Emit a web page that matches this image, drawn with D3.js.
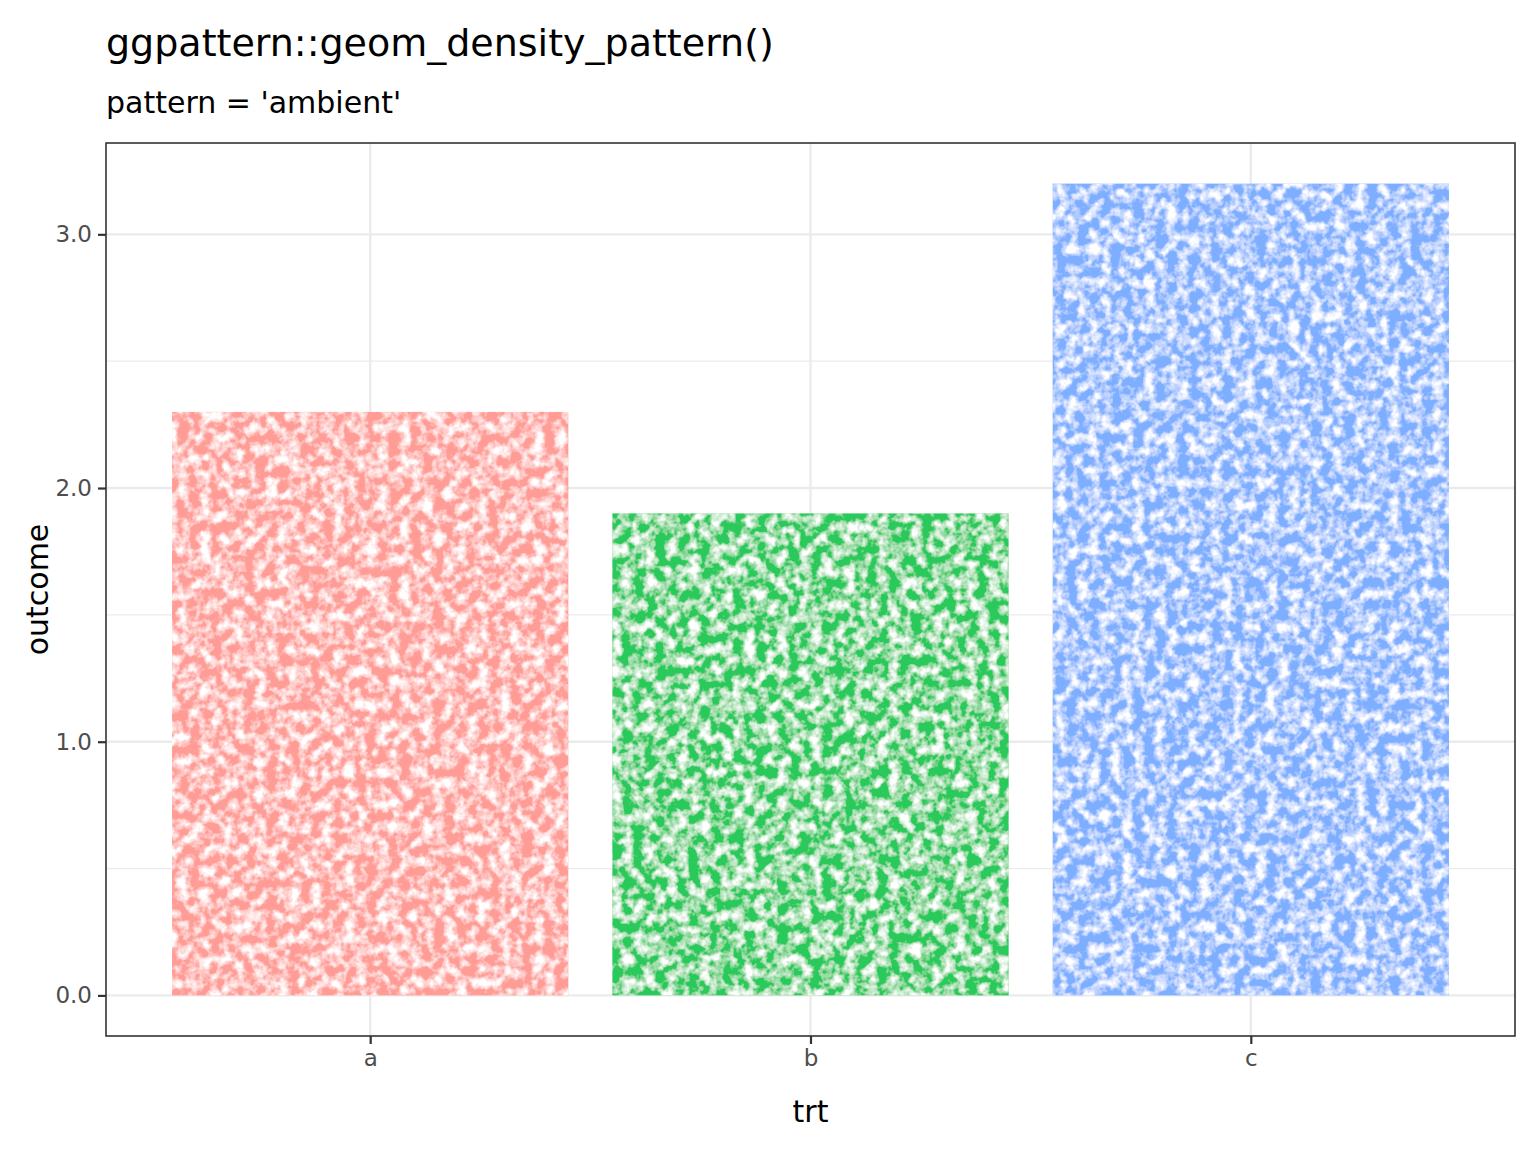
<!DOCTYPE html><html><head><meta charset="utf-8">
<script src="https://cdn.jsdelivr.net/npm/d3@7"></script>
<style>body{margin:0;background:#fff}text{font-family:"DejaVu Sans",sans-serif}</style></head><body>
<script>
const categories=["a","b","c"];
const values=[2.3,1.9,3.2];
const colors=["#FF9C96","#2CC95C","#7EAEFF"];
const yTicks=[0,1,2,3];
const W=1536,H=1152,L=106,R=1515,T=143,B=1036;
const svg=d3.select("body").append("svg").attr("width",W).attr("height",H);
const defs=svg.append("defs");
const f=defs.append("filter").attr("id","amb").attr("x",0).attr("y",0).attr("width",1).attr("height",1);
f.append("feTurbulence").attr("type","fractalNoise").attr("baseFrequency",0.09).attr("numOctaves",3).attr("seed",4).attr("result","n");
f.append("feColorMatrix").attr("in","n").attr("type","matrix").attr("values","0 0 0 0 1  0 0 0 0 1  0 0 0 0 1  3 0 0 0 -1.2").attr("result","w");
f.append("feComposite").attr("in","w").attr("in2","SourceAlpha").attr("operator","in").attr("result","wc");
f.append("feMerge").call(m=>{m.append("feMergeNode").attr("in","SourceGraphic");m.append("feMergeNode").attr("in","wc");});
const x=d3.scaleBand().domain(categories).range([L,R]).paddingInner(0.1).paddingOuter(0.05).align(0.5);
const xb=d3.scaleBand().domain(categories).range([L+ (R-L)*0.0,R]);
const y=d3.scaleLinear().domain([-0.16,3.36]).range([B,T]);
const bw=(R-L)/3.2; // unit per category
const xc=d3.scalePoint().domain(categories).range([L+bw*0.6,R-bw*0.6]);
const g=svg.append("g");
// grid
d3.range(0,3.5,0.5).forEach(v=>{g.append("line").attr("x1",L).attr("x2",R).attr("y1",y(v)).attr("y2",y(v)).attr("stroke","#EBEBEB").attr("stroke-width",v%1?1.2:2.4);});
categories.forEach(c=>g.append("line").attr("x1",xc(c)).attr("x2",xc(c)).attr("y1",T).attr("y2",B).attr("stroke","#EBEBEB").attr("stroke-width",2.4));
categories.forEach((c,i)=>g.append("rect").attr("x",xc(c)-bw*0.45).attr("width",bw*0.9).attr("y",y(values[i])).attr("height",y(0)-y(values[i])).attr("fill",colors[i]).attr("filter","url(#amb)"));
g.append("rect").attr("x",L).attr("y",T).attr("width",R-L).attr("height",B-T).attr("fill","none").attr("stroke","#333").attr("stroke-width",1.6);
// axes
const ya=svg.append("g").attr("transform",`translate(${L},0)`).call(d3.axisLeft(y).tickValues(yTicks).tickSize(8).tickPadding(6));
const xa=svg.append("g").attr("transform",`translate(0,${B})`).call(d3.axisBottom(xc).tickSize(8).tickPadding(6));
[ya,xa].forEach(a=>{a.select(".domain").remove();a.selectAll("line").attr("stroke","#333").attr("stroke-width",2.2);a.selectAll("text").attr("fill","#4D4D4D").style("font-size","23px").style("font-family","DejaVu Sans");});
svg.append("text").attr("x",xc("b")).attr("y",1122).attr("text-anchor","middle").attr("font-size",30).text("trt");
svg.append("text").attr("transform",`translate(48,${(T+B)/2}) rotate(-90)`).attr("text-anchor","middle").attr("font-size",30).text("outcome");
svg.append("text").attr("x",106).attr("y",56).attr("font-size",38).text("ggpattern::geom_density_pattern()");
svg.append("text").attr("x",106).attr("y",113).attr("font-size",30).text("pattern = 'ambient'");
</script></body></html>
